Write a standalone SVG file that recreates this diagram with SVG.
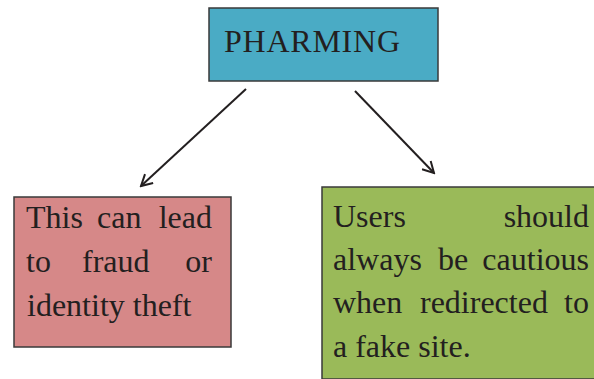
<svg xmlns="http://www.w3.org/2000/svg" width="594" height="379" viewBox="0 0 594 379">
<defs>
<style>
.box{stroke:#3a3a3a;stroke-width:1.5}
.t{font-family:"Liberation Serif","Times New Roman",serif;font-size:32px;fill:#231f20}
.c{stroke:#231f20;stroke-width:2;fill:none}
</style>
<marker id="ah" viewBox="0 0 14 14" refX="12" refY="7" markerWidth="14" markerHeight="14" markerUnits="userSpaceOnUse" orient="auto">
<path d="M1,1 L12,7 L1,13" fill="none" stroke="#231f20" stroke-width="2"/>
</marker>
</defs>
<rect width="594" height="379" fill="#fff"/>
<g id="connectors">
<line class="c" x1="246" y1="89" x2="141" y2="186" marker-end="url(#ah)"/>
<line class="c" x1="355" y1="91" x2="434" y2="173" marker-end="url(#ah)"/>
</g>
<g id="pharming">
<rect class="box" x="209" y="8" width="229" height="73" fill="#4aabc5"/>
<text class="t" x="224" y="52" font-size="30" textLength="176">PHARMING</text>
</g>
<g id="fraud">
<rect class="box" x="14" y="197" width="217" height="150" fill="#d68888"/>
<text class="t" x="26" y="228">This</text>
<text class="t" x="97" y="228">can</text>
<text class="t" x="212" y="228" text-anchor="end">lead</text>
<text class="t" x="26" y="272">to</text>
<text class="t" x="82" y="272">fraud</text>
<text class="t" x="212" y="272" text-anchor="end">or</text>
<text class="t" x="27" y="316">identity theft</text>
</g>
<g id="cautious">
<rect class="box" x="322" y="187" width="274" height="192" fill="#9aba59"/>
<text class="t" x="333" y="227">Users</text>
<text class="t" x="589" y="227" text-anchor="end">should</text>
<text class="t" x="333" y="270">always</text>
<text class="t" x="438" y="270">be</text>
<text class="t" x="589" y="270" text-anchor="end">cautious</text>
<text class="t" x="333" y="313">when</text>
<text class="t" x="420" y="313">redirected</text>
<text class="t" x="589" y="313" text-anchor="end">to</text>
<text class="t" x="333" y="357">a fake site.</text>
</g>
</svg>
